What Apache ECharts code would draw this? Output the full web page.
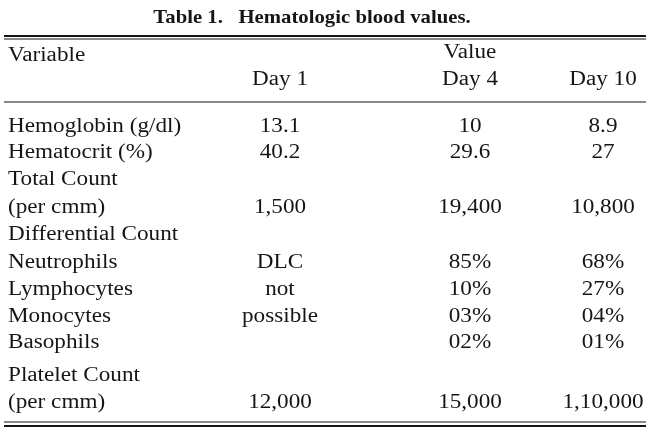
<!DOCTYPE html>
<html style="height: 100%">
<head>
  <meta charset="utf-8">
  <title>Table 1</title>
</head>
<body style="height: 100%; margin: 0; background: #fff">
<div id="container" style="height: 100%"></div>
<script src="https://cdn.jsdelivr.net/npm/echarts@6/dist/echarts.min.js"></script>
<script>
  var dom = document.getElementById("container");
  var myChart = echarts.init(dom);

  var title = 'Table 1.   Hematologic blood values.';
  var columns = ['Day 1', 'Day 4', 'Day 10'];
  var variables = ['Hemoglobin (g/dl)', 'Hematocrit (%)', 'Total Count', '(per cmm)', 'Differential Count',
    'Neutrophils', 'Lymphocytes', 'Monocytes', 'Basophils', 'Platelet Count', '(per cmm)'];
  var day1 = ['13.1', '40.2', '', '1,500', '', 'DLC', 'not', 'possible', '', '', '12,000'];
  var day4 = ['10', '29.6', '', '19,400', '', '85%', '10%', '03%', '02%', '', '15,000'];
  var day10 = ['8.9', '27', '', '10,800', '', '68%', '27%', '04%', '01%', '', '1,10,000'];

  var rowY = [127, 153, 180, 208, 235, 263, 290, 317, 343, 376, 403];
  var colX = [280, 470, 603];
  var font = '19px "Liberation Serif", "DejaVu Serif", serif';
  var ink = '#151515';

  // scanned type is wider than Times, so stretch it a bit horizontally
  function txt(x, y, s, align, f) {
    return { type: 'text', x: x, y: y, scaleX: 1.22, scaleY: 1.05,
      style: { text: s, font: f || font, fill: ink, textAlign: align || 'left', textVerticalAlign: 'middle' } };
  }
  function hline(y, w) {
    return { type: 'line', shape: { x1: 4, y1: y, x2: 646, y2: y }, style: { stroke: ink, lineWidth: w } };
  }

  var els = [];
  els.push(txt(312, 18, title, 'center', 'bold 17px "Liberation Serif", serif'));
  els.push(hline(36, 2));
  els.push(hline(39, 1));
  els.push(txt(8, 56, 'Variable'));
  els.push(txt(470, 53, 'Value', 'center'));
  columns.forEach(function (c, i) { els.push(txt(colX[i], 80, c, 'center')); });
  els.push(hline(102, 1.2));
  variables.forEach(function (v, i) {
    els.push(txt(8, rowY[i], v));
    els.push(txt(colX[0], rowY[i], day1[i], 'center'));
    els.push(txt(colX[1], rowY[i], day4[i], 'center'));
    els.push(txt(colX[2], rowY[i], day10[i], 'center'));
  });
  els.push(hline(422, 1.2));
  els.push(hline(426, 2));

  myChart.setOption({ animation: false, graphic: { elements: els } });
</script>
</body>
</html>
